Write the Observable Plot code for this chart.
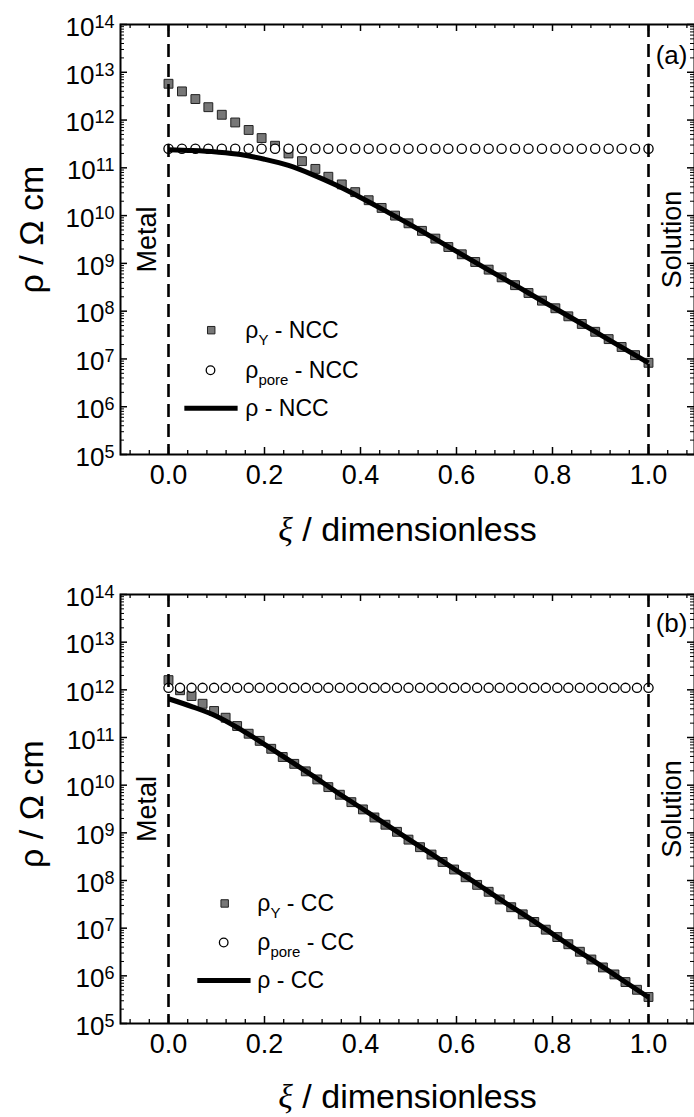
<!DOCTYPE html>
<html><head><meta charset="utf-8">
<script src="https://cdn.jsdelivr.net/npm/d3@7"></script>
<script src="https://cdn.jsdelivr.net/npm/@observablehq/plot@0.6"></script>
<style>
body{margin:0;background:#fff;width:694px;overflow:hidden;}
#chart svg{display:block;}
</style></head><body><div id="chart"></div>
<script>
// ---------- data ----------
const xiNCC = [0,0.028,0.056,0.083,0.111,0.139,0.167,0.194,0.222,0.25,0.278,0.306,0.333,0.361,0.389,0.417,0.444,0.472,0.5,0.528,0.556,0.583,0.611,0.639,0.667,0.694,0.722,0.75,0.778,0.806,0.833,0.861,0.889,0.917,0.944,0.972,1];
const rhoY_NCC = [5.75e12,3.98e12,2.75e12,1.86e12,1.29e12,8.9e11,6.2e11,4.2e11,2.9e11,2.0e11,1.38e11,9.5e10,6.5e10,4.5e10,3.1e10,2.1e10,1.45e10,1.0e10,6.9e9,4.8e9,3.3e9,2.2e9,1.55e9,1.07e9,7.4e8,5.1e8,3.5e8,2.4e8,1.66e8,1.15e8,7.8e7,5.4e7,3.7e7,2.6e7,1.78e7,1.2e7,8.3e6];
const rhoPore_NCC = [2.5e11,2.5e11,2.5e11,2.5e11,2.5e11,2.5e11,2.5e11,2.5e11,2.5e11,2.5e11,2.5e11,2.5e11,2.5e11,2.5e11,2.5e11,2.5e11,2.5e11,2.5e11,2.5e11,2.5e11,2.5e11,2.5e11,2.5e11,2.5e11,2.5e11,2.5e11,2.5e11,2.5e11,2.5e11,2.5e11,2.5e11,2.5e11,2.5e11,2.5e11,2.5e11,2.5e11,2.5e11];
const xiCC = [0,0.024,0.048,0.071,0.095,0.119,0.143,0.167,0.19,0.214,0.238,0.262,0.286,0.31,0.333,0.357,0.381,0.405,0.429,0.452,0.476,0.5,0.524,0.548,0.571,0.595,0.619,0.643,0.667,0.69,0.714,0.738,0.762,0.786,0.81,0.833,0.857,0.881,0.905,0.929,0.952,0.976,1];
const rhoY_CC = [1.6e12,9.8e11,7.4e11,5.1e11,3.6e11,2.6e11,1.74e11,1.2e11,8.5e10,5.8e10,3.9e10,2.8e10,1.95e10,1.32e10,9.1e9,6.3e9,4.4e9,3.1e9,2.1e9,1.48e9,1.05e9,7.2e8,5.0e8,3.5e8,2.45e8,1.7e8,1.17e8,8.1e7,5.8e7,4.0e7,2.75e7,1.95e7,1.35e7,9.3e6,6.5e6,4.6e6,3.2e6,2.2e6,1.5e6,1.07e6,7.4e5,5.1e5,3.6e5];
const rhoPore_CC = [1.1e12,1.1e12,1.1e12,1.1e12,1.1e12,1.1e12,1.1e12,1.1e12,1.1e12,1.1e12,1.1e12,1.1e12,1.1e12,1.1e12,1.1e12,1.1e12,1.1e12,1.1e12,1.1e12,1.1e12,1.1e12,1.1e12,1.1e12,1.1e12,1.1e12,1.1e12,1.1e12,1.1e12,1.1e12,1.1e12,1.1e12,1.1e12,1.1e12,1.1e12,1.1e12,1.1e12,1.1e12,1.1e12,1.1e12,1.1e12,1.1e12,1.1e12,1.1e12];
const xiFit = [0,0.05,0.1,0.15,0.2,0.25,0.3,0.35,0.4,0.45,0.5,0.55,0.6,0.65,0.7,0.75,0.8,0.85,0.9,0.95,1];
const rho_NCC = [2.4e11,2.3e11,2.14e11,1.9e11,1.51e11,1.12e11,7.2e10,4.3e10,2.4e10,1.29e10,6.8e9,3.5e9,1.78e9,9.1e8,4.7e8,2.4e8,1.23e8,6.3e7,3.2e7,1.62e7,8.3e6];
const rho_CC = [6.5e11,4.4e11,2.8e11,1.48e11,7.2e10,3.4e10,1.58e10,7.2e9,3.4e9,1.58e9,7.4e8,3.5e8,1.62e8,7.6e7,3.5e7,1.66e7,7.6e6,3.5e6,1.66e6,7.6e5,3.55e5];

const xMajor = [0,0.2,0.4,0.6,0.8,1.0];
const xMinor = [-0.08,-0.04,0.04,0.08,0.12,0.16,0.24,0.28,0.32,0.36,0.44,0.48,0.52,0.56,0.64,0.68,0.72,0.76,0.84,0.88,0.92,0.96,1.04,1.08];
const yExponents = [5,6,7,8,9,10,11,12,13,14];
const yMantissas = [2,3,4,5,6,7,8,9];
const boundaryXi = [0, 1];
const regionLabels = ["Metal", "Solution"];

// ---------- panel builder ----------
function panel(p) {
  const W = 694, ml = 120, mt = 24, H = p.height, mb = p.mb;
  const ph = H - mt - mb, pw = W - ml;
  const sq = p.xi.map((x, i) => ({x, y: p.rhoY[i]}));
  const ci = p.xi.map((x, i) => ({x, y: p.rhoPore[i]}));
  const ln = xiFit.map((x, i) => ({x, y: p.rho[i]}));
  const yMajorVals = yExponents.map(e => Math.pow(10, e));
  const yMinorVals = [];
  yExponents.slice(0, -1).forEach(e => yMantissas.forEach(m => yMinorVals.push(m * Math.pow(10, e))));
  const lg = p.legend;
  const svg = Plot.plot({
    width: W, height: H, marginTop: mt, marginBottom: mb, marginLeft: ml, marginRight: 0,
    style: {fontFamily: "'Liberation Sans', Arial, sans-serif", background: "white", color: "black", overflow: "visible"},
    x: {domain: [-0.1, 1.1], range: [ml, ml + 576], axis: null},
    y: {type: "log", domain: [1e5, 1e14], axis: null},
    marks: [
      Plot.dot(sq, {x: "x", y: "y", symbol: "square", r: 5, fill: "#777777", stroke: "#222", strokeWidth: 1}),
      Plot.dot(ci, {x: "x", y: "y", r: 4.6, fill: "white", stroke: "black", strokeWidth: 1.3}),
      Plot.ruleX(boundaryXi, {stroke: "black", strokeWidth: 2.6, strokeDasharray: "13,7", strokeLinecap: "butt"}),
      Plot.line(ln, {x: "x", y: "y", stroke: "black", strokeWidth: 5, curve: "monotone-x", strokeLinecap: "butt"}),
      // ticks (inward, mirrored)
      Plot.ruleX(xMajor, {insetTop: ph - 7, stroke: "black", strokeWidth: 1.5}),
      Plot.ruleX(xMajor, {insetBottom: ph - 7, stroke: "black", strokeWidth: 1.5}),
      Plot.ruleX(xMinor, {insetTop: ph - 4, stroke: "black", strokeWidth: 1.3}),
      Plot.ruleX(xMinor, {insetBottom: ph - 4, stroke: "black", strokeWidth: 1.3}),
      Plot.ruleY(yMajorVals, {insetRight: pw - 7, stroke: "black", strokeWidth: 1.5}),
      Plot.ruleY(yMajorVals, {insetLeft: pw - 7, stroke: "black", strokeWidth: 1.5}),
      Plot.ruleY(yMinorVals, {insetRight: pw - 4, stroke: "black", strokeWidth: 1}),
      Plot.ruleY(yMinorVals, {insetLeft: pw - 4, stroke: "black", strokeWidth: 1}),
      Plot.frame({stroke: "black", strokeWidth: 2}),
      // tick labels
      Plot.text(xMajor, {x: d => d, text: d => d.toFixed(1), frameAnchor: "bottom", dy: 29, lineAnchor: "bottom", fontSize: 27, fill: "black"}),
      Plot.text(yExponents, {y: e => Math.pow(10, e), text: e => "10^" + e, frameAnchor: "left", dx: -6, dy: 3, textAnchor: "end", lineAnchor: "middle", fontSize: 26, fill: "black"}),
      // axis titles
      Plot.text(["ξ~ / dimensionless"], {frameAnchor: "bottom", dy: p.titleDy, textAnchor: "middle", lineAnchor: "bottom", fontSize: 34, fill: "black"}),
      Plot.text(["ρ / Ω cm"], {frameAnchor: "left", dx: -78, dy: p.ytDy, rotate: -90, textAnchor: "middle", lineAnchor: "bottom", fontSize: 34, fill: "black"}),
      // region labels
      Plot.text(regionLabels, {x: (d, i) => p.regionX[i], text: d => d, rotate: -90, textAnchor: "middle", lineAnchor: "bottom", fontSize: 27, fill: "black"}),
      Plot.text([p.tag], {x: p.tagPos[0], y: p.tagPos[1], text: d => d, textAnchor: "start", lineAnchor: "middle", fontSize: 26, fill: "black"}),
      // legend
      Plot.dot([lg.sq], {x: "x", y: "y", symbol: "square", r: 4.2, fill: "#777777", stroke: "#222", strokeWidth: 1}),
      Plot.dot([lg.ci], {x: "x", y: "y", r: 4.3, fill: "white", stroke: "black", strokeWidth: 1.3}),
      Plot.line(lg.ln, {x: "x", y: "y", stroke: "black", strokeWidth: 5, strokeLinecap: "butt"}),
      Plot.text(lg.labels, {x: "x", y: "y", text: "t", textAnchor: "start", lineAnchor: "middle", fontSize: 23, fill: "black"})
    ]
  });
  d3.select(svg).selectAll("text").each(function() {
    const t = d3.select(this); const s = t.text();
    if (s.includes("^")) {
      const [b, e] = s.split("^");
      t.text(null);
      t.append("tspan").text(b);
      t.append("tspan").attr("font-size", 18).attr("dy", -8).text(e);
    } else if (s.includes("~")) {
      const [a, b] = s.split("~");
      t.text(null);
      t.append("tspan").attr("font-family", "'Liberation Serif', 'DejaVu Serif', serif").attr("font-style", "italic").text(a);
      t.append("tspan").text(b);
    } else if (s.includes("_")) {
      const parts = s.split("_");
      t.text(null);
      t.append("tspan").text(parts[0]);
      t.append("tspan").attr("font-size", 15).attr("dy", 7).text(parts[1]);
      t.append("tspan").attr("dy", -7).text(parts[2]);
    }
  });
  return svg;
}

const panelA = panel({
  height: 570, mb: 116, titleDy: 86, ytDy: -10,
  xi: xiNCC, rhoY: rhoY_NCC, rhoPore: rhoPore_NCC, rho: rho_NCC,
  regionX: [-0.027, 1.067], tag: "(a)", tagPos: [1.015, 2.2e13],
  legend: {
    sq: {x: 0.089, y: 4.0e7}, ci: {x: 0.0875, y: 5.8e6},
    ln: [{x: 0.033, y: 9.3e5}, {x: 0.144, y: 9.3e5}],
    labels: [{x: 0.16, y: 4.0e7, t: "ρ_Y_ - NCC"}, {x: 0.16, y: 5.8e6, t: "ρ_pore_ - NCC"}, {x: 0.16, y: 9.3e5, t: "ρ - NCC"}]
  }
});
const panelB = panel({
  height: 547, mb: 94, titleDy: 84, ytDy: -5,
  xi: xiCC, rhoY: rhoY_CC, rhoPore: rhoPore_CC, rho: rho_CC,
  regionX: [-0.027, 1.067], tag: "(b)", tagPos: [1.015, 2.4e13],
  legend: {
    sq: {x: 0.117, y: 3.3e7}, ci: {x: 0.115, y: 5.0e6},
    ln: [{x: 0.06, y: 8.0e5}, {x: 0.171, y: 8.0e5}],
    labels: [{x: 0.185, y: 3.3e7, t: "ρ_Y_ - CC"}, {x: 0.185, y: 5.0e6, t: "ρ_pore_ - CC"}, {x: 0.185, y: 8.0e5, t: "ρ - CC"}]
  }
});
document.getElementById("chart").append(panelA, panelB);
</script></body></html>
